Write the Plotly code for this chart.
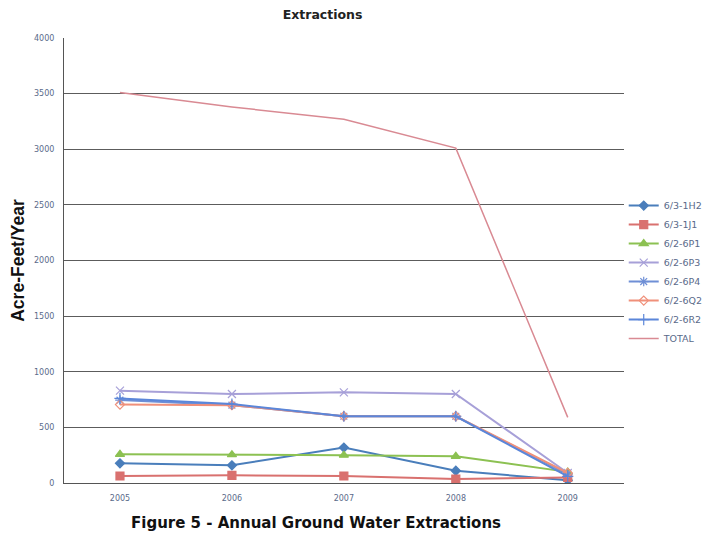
import plotly.graph_objects as go

# Annual extractions per well
years = ["2005", "2006", "2007", "2008", "2009"]
well_1h2 = [177, 159, 318, 110, 25]
well_1j1 = [63, 69, 63, 36, 50]
well_6p1 = [258, 255, 250, 240, 100]
well_6p3 = [830, 800, 815, 800, 90]
well_6p4 = [745, 700, 600, 600, 80]
well_6q2 = [705, 700, 600, 600, 90]
well_6r2 = [760, 710, 600, 600, 60]
total = [3510, 3380, 3270, 3010, 590]

series = [
    ("6/3-1H2", well_1h2, "#4a7ebb", "diamond", 7),
    ("6/3-1J1", well_1j1, "#d9716f", "square", 8),
    ("6/2-6P1", well_6p1, "#8cc152", "triangle-up", 8),
    ("6/2-6P3", well_6p3, "#a7a0d8", "x-thin-open", 8),
    ("6/2-6P4", well_6p4, "#6f8fd6", "asterisk-open", 8),
    ("6/2-6Q2", well_6q2, "#f0907a", "diamond-open", 7),
    ("6/2-6R2", well_6r2, "#5b86d9", "cross-thin-open", 8),
]

fig = go.Figure()
for name, vals, col, sym, sz in series:
    fig.add_trace(go.Scatter(
        x=years, y=vals, name=name, mode="lines+markers",
        line=dict(color=col, width=2),
        marker=dict(symbol=sym, size=sz, color=col, line=dict(color=col, width=1.2)),
    ))

fig.add_trace(go.Scatter(
    x=years, y=total, name="TOTAL", mode="lines",
    line=dict(color="#d98a93", width=1.5),
))

tick_font = dict(family="DejaVu Sans", size=8, color="#5a6a8a")

# page body has an 8px margin, so margins are shifted by that much
fig.update_layout(
    width=711, height=535,
    paper_bgcolor="white", plot_bgcolor="white",
    margin=dict(l=56, r=94, t=30, b=60),
    title=dict(text="<b>Extractions</b>", x=0.462, xref="paper", xanchor="center",
               y=0.995, yanchor="top",
               font=dict(family="DejaVu Sans", size=12.5, color="#222")),
    xaxis=dict(type="category", range=[-0.5, 4.5], showgrid=False, showline=True,
               linecolor="#555", linewidth=1, ticks="", ticklabelstandoff=7,
               tickfont=tick_font, automargin=False),
    yaxis=dict(range=[0, 4000], dtick=500, showgrid=True, gridcolor="#5c5c5c",
               gridwidth=1, showline=True, linecolor="#555", linewidth=1,
               zeroline=False, ticks="", ticklabelstandoff=7, tickfont=tick_font,
               automargin=False,
               title=dict(text="<b>Acre-Feet/Year</b>",
                          font=dict(family="Liberation Sans", size=17.5, color="#111"))),
    legend=dict(xref="container", x=0.866, xanchor="left", y=0.474, yanchor="middle",
                font=dict(family="DejaVu Sans", size=9.5, color="#5a6a8a"),
                itemwidth=30, tracegroupgap=0, bgcolor="rgba(0,0,0,0)"),
    showlegend=True,
)

fig.add_annotation(
    text="<b>Figure 5 - Annual Ground Water Extractions</b>",
    xref="paper", yref="paper", x=0.45, y=-0.09, xanchor="center", yanchor="middle",
    showarrow=False, font=dict(family="DejaVu Sans", size=15, color="#111"),
)

fig.write_html("out.html")
